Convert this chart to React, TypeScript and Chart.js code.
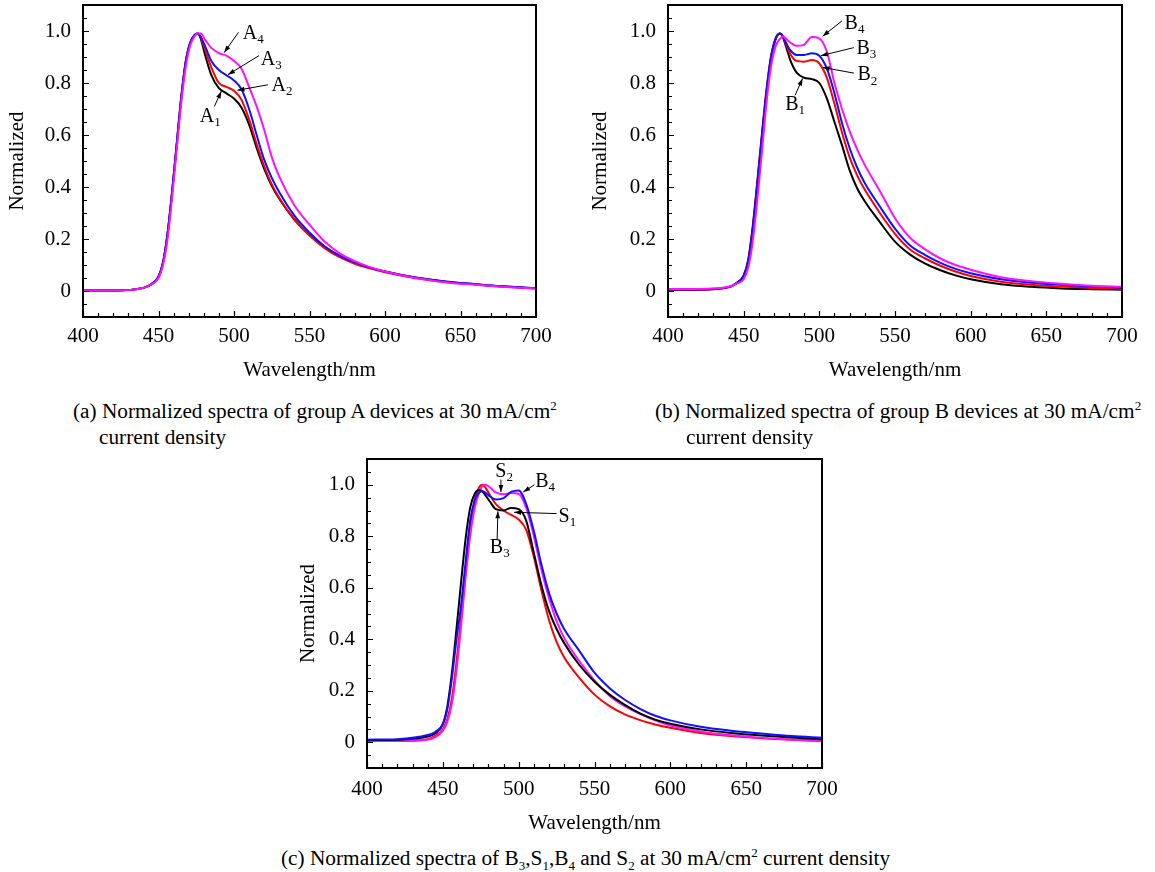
import React, { useEffect, useRef } from "react";
import { Chart, registerables } from "chart.js";

Chart.register(...registerables);

// ---------------- data ----------------
const WL = [400, 420, 440, 445, 450, 453, 456, 459, 462, 465, 468, 471, 474, 476, 478, 481, 485, 490, 495, 500, 505, 510, 515, 520, 525, 530, 540, 550, 560, 570, 580, 590, 600, 620, 640, 660, 680, 700];

// group A
const A1 = [0.002, 0.002, 0.012, 0.025, 0.055, 0.11, 0.22, 0.38, 0.56, 0.74, 0.88, 0.955, 0.985, 0.99, 0.97, 0.905, 0.83, 0.78, 0.76, 0.74, 0.705, 0.64, 0.55, 0.47, 0.405, 0.355, 0.275, 0.215, 0.17, 0.135, 0.11, 0.09, 0.075, 0.052, 0.037, 0.026, 0.017, 0.011];
const A2 = [0.002, 0.002, 0.012, 0.025, 0.055, 0.11, 0.22, 0.38, 0.56, 0.74, 0.88, 0.955, 0.985, 0.99, 0.975, 0.925, 0.86, 0.8, 0.785, 0.77, 0.735, 0.66, 0.565, 0.48, 0.41, 0.358, 0.275, 0.213, 0.165, 0.13, 0.105, 0.087, 0.072, 0.05, 0.035, 0.025, 0.016, 0.01];
const A3 = [0.002, 0.002, 0.012, 0.025, 0.055, 0.11, 0.22, 0.38, 0.56, 0.74, 0.88, 0.955, 0.985, 0.99, 0.978, 0.94, 0.885, 0.85, 0.83, 0.81, 0.775, 0.7, 0.6, 0.505, 0.435, 0.38, 0.29, 0.225, 0.172, 0.136, 0.11, 0.09, 0.075, 0.052, 0.036, 0.026, 0.017, 0.011];
const A4 = [0.002, 0.002, 0.012, 0.024, 0.05, 0.1, 0.2, 0.36, 0.54, 0.72, 0.86, 0.945, 0.98, 0.99, 0.99, 0.965, 0.935, 0.915, 0.905, 0.885, 0.855, 0.785, 0.71, 0.62, 0.515, 0.44, 0.33, 0.255, 0.19, 0.145, 0.115, 0.092, 0.075, 0.05, 0.034, 0.024, 0.015, 0.01];

// group B
const B1 = [0.005, 0.005, 0.015, 0.03, 0.06, 0.12, 0.25, 0.42, 0.6, 0.77, 0.9, 0.97, 0.99, 0.975, 0.94, 0.885, 0.84, 0.82, 0.815, 0.8, 0.74, 0.65, 0.56, 0.465, 0.395, 0.345, 0.265, 0.19, 0.14, 0.105, 0.08, 0.06, 0.045, 0.026, 0.016, 0.01, 0.007, 0.005];
const B2 = [0.005, 0.005, 0.014, 0.028, 0.055, 0.11, 0.23, 0.4, 0.58, 0.75, 0.89, 0.965, 0.99, 0.98, 0.95, 0.91, 0.885, 0.882, 0.888, 0.875, 0.82, 0.72, 0.61, 0.515, 0.445, 0.39, 0.3, 0.22, 0.16, 0.125, 0.097, 0.075, 0.058, 0.036, 0.024, 0.017, 0.012, 0.008];
const B3 = [0.006, 0.006, 0.015, 0.03, 0.058, 0.115, 0.24, 0.41, 0.59, 0.76, 0.895, 0.968, 0.99, 0.98, 0.955, 0.925, 0.908, 0.908, 0.914, 0.905, 0.855, 0.76, 0.645, 0.55, 0.475, 0.415, 0.325, 0.24, 0.175, 0.138, 0.108, 0.085, 0.068, 0.045, 0.032, 0.024, 0.017, 0.013];
const B4 = [0.008, 0.008, 0.016, 0.028, 0.045, 0.09, 0.19, 0.35, 0.53, 0.72, 0.86, 0.94, 0.97, 0.98, 0.97, 0.955, 0.943, 0.948, 0.977, 0.972, 0.92, 0.8, 0.7, 0.615, 0.545, 0.485, 0.385, 0.28, 0.205, 0.16, 0.125, 0.1, 0.082, 0.053, 0.038, 0.028, 0.02, 0.016];

// comparison (c)
const C_B3 = [0.008, 0.01, 0.022, 0.035, 0.07, 0.14, 0.27, 0.44, 0.62, 0.79, 0.91, 0.965, 0.98, 0.975, 0.96, 0.935, 0.905, 0.9, 0.91, 0.905, 0.86, 0.735, 0.61, 0.51, 0.44, 0.385, 0.3, 0.235, 0.185, 0.145, 0.112, 0.088, 0.072, 0.05, 0.036, 0.026, 0.018, 0.012];
const C_S1 = [0.005, 0.005, 0.012, 0.025, 0.05, 0.09, 0.17, 0.31, 0.48, 0.66, 0.83, 0.94, 0.99, 1.0, 0.99, 0.96, 0.925, 0.9, 0.883, 0.865, 0.825, 0.72, 0.59, 0.475, 0.39, 0.33, 0.25, 0.185, 0.14, 0.108, 0.086, 0.069, 0.056, 0.036, 0.024, 0.016, 0.01, 0.006];
const C_B4 = [0.01, 0.012, 0.028, 0.04, 0.07, 0.13, 0.25, 0.4, 0.53, 0.7, 0.86, 0.94, 0.97, 0.975, 0.97, 0.955, 0.943, 0.948, 0.972, 0.978, 0.925, 0.82, 0.69, 0.58, 0.5, 0.44, 0.355, 0.27, 0.21, 0.165, 0.13, 0.103, 0.085, 0.06, 0.045, 0.034, 0.024, 0.017];
const C_S2 = [0.005, 0.005, 0.01, 0.02, 0.045, 0.08, 0.15, 0.28, 0.45, 0.64, 0.8, 0.91, 0.97, 0.995, 1.0, 0.99, 0.97, 0.963, 0.968, 0.965, 0.91, 0.8, 0.67, 0.56, 0.47, 0.405, 0.315, 0.24, 0.18, 0.14, 0.11, 0.085, 0.065, 0.042, 0.027, 0.017, 0.01, 0.004];

const X_TICKS = [400, 450, 500, 550, 600, 650, 700];
const Y_TICKS = [0, 0.2, 0.4, 0.6, 0.8, 1.0];
const X_TITLE = "Wavelength/nm";
const Y_TITLE = "Normalized";

const BLACK = "#000000";
const RED = "#ff0000";
const BLUE = "#1010ff";
const MAGENTA = "#ff10ff";

// annotation labels: letter, subscript, label position (nm, value), arrow from -> to (nm, value)
type Ann = { t: string; s: string; lx: number; ly: number; x1: number; y1: number; x2: number; y2: number };
const ANN_A: Ann[] = [
  { t: "A", s: "4", lx: 505.8, ly: 0.99, x1: 503, y1: 0.995, x2: 493.5, y2: 0.917 },
  { t: "A", s: "3", lx: 517.7, ly: 0.889, x1: 516.5, y1: 0.905, x2: 496, y2: 0.832 },
  { t: "A", s: "2", lx: 524.8, ly: 0.789, x1: 522.4, y1: 0.793, x2: 502.3, y2: 0.772 },
  { t: "A", s: "1", lx: 477.4, ly: 0.669, x1: 487, y1: 0.71, x2: 491.6, y2: 0.768 },
];
const ANN_B: Ann[] = [
  { t: "B", s: "4", lx: 516.7, ly: 1.028, x1: 514.8, y1: 1.038, x2: 502.2, y2: 0.98 },
  { t: "B", s: "3", lx: 524.5, ly: 0.932, x1: 522.8, y1: 0.936, x2: 501, y2: 0.905 },
  { t: "B", s: "2", lx: 525.2, ly: 0.83, x1: 522.8, y1: 0.838, x2: 502.2, y2: 0.86 },
  { t: "B", s: "1", lx: 477.5, ly: 0.718, x1: 484, y1: 0.753, x2: 488.9, y2: 0.817 },
];
const ANN_C: Ann[] = [
  { t: "S", s: "2", lx: 484.6, ly: 1.052, x1: 488.3, y1: 1.02, x2: 488.3, y2: 0.972 },
  { t: "B", s: "4", lx: 510.9, ly: 1.013, x1: 510.4, y1: 1.0, x2: 503, y2: 0.972 },
  { t: "S", s: "1", lx: 526.3, ly: 0.875, x1: 525, y1: 0.888, x2: 497, y2: 0.893 },
  { t: "B", s: "3", lx: 481, ly: 0.755, x1: 485.8, y1: 0.787, x2: 486.3, y2: 0.897 },
];

const FONT = "'Liberation Serif', 'Times New Roman', serif";

type Series = { data: number[]; color: string };
type Panel = {
  left: number; top: number; w: number; h: number;
  padTop: number; padRight: number; yW: number; xH: number;
  xTitlePad: number; yTitlePad: number; xTickPad: number;
  series: Series[]; ann: Ann[];
};

const framePlugin = {
  id: "frame",
  afterDatasetsDraw(chart: any) {
    const { ctx, chartArea, scales } = chart;
    const { left, top, right, bottom } = chartArea;
    const x = scales.x, y = scales.y;
    ctx.save();
    ctx.strokeStyle = "#000";
    ctx.lineWidth = 1.2;
    ctx.beginPath();
    for (let v = 400; v <= 700; v += 10) {
      const px = Math.round(x.getPixelForValue(v)) + 0.5;
      const len = v % 50 === 0 ? 6 : 4;
      ctx.moveTo(px, bottom);
      ctx.lineTo(px, bottom - len);
    }
    for (let k = -2; k <= 22; k++) {
      const v = k * 0.05;
      const py = Math.round(y.getPixelForValue(v)) + 0.5;
      const len = k % 4 === 0 ? 6 : 4;
      ctx.moveTo(left, py);
      ctx.lineTo(left + len, py);
    }
    ctx.stroke();
    ctx.lineWidth = 2;
    ctx.strokeRect(left, top, right - left, bottom - top);
    ctx.restore();
  },
};

function makeAnnPlugin(ann: Ann[]) {
  return {
    id: "ann",
    afterDraw(chart: any) {
      const { ctx, scales } = chart;
      const x = scales.x, y = scales.y;
      ctx.save();
      ctx.fillStyle = "#000";
      ctx.strokeStyle = "#000";
      ctx.lineWidth = 1;
      ann.forEach((a) => {
        const lx = x.getPixelForValue(a.lx), ly = y.getPixelForValue(a.ly);
        ctx.font = `20px ${FONT}`;
        ctx.textAlign = "left";
        ctx.textBaseline = "middle";
        ctx.fillText(a.t, lx, ly);
        const w = ctx.measureText(a.t).width;
        ctx.font = `13px ${FONT}`;
        ctx.fillText(a.s, lx + w, ly + 6);
        const x1 = x.getPixelForValue(a.x1), y1 = y.getPixelForValue(a.y1);
        const x2 = x.getPixelForValue(a.x2), y2 = y.getPixelForValue(a.y2);
        ctx.beginPath();
        ctx.moveTo(x1, y1);
        ctx.lineTo(x2, y2);
        ctx.stroke();
        const ang = Math.atan2(y2 - y1, x2 - x1);
        const L = 7, Wd = 2.4;
        ctx.beginPath();
        ctx.moveTo(x2, y2);
        ctx.lineTo(x2 - L * Math.cos(ang) + Wd * Math.sin(ang), y2 - L * Math.sin(ang) - Wd * Math.cos(ang));
        ctx.lineTo(x2 - L * Math.cos(ang) - Wd * Math.sin(ang), y2 - L * Math.sin(ang) + Wd * Math.cos(ang));
        ctx.closePath();
        ctx.fill();
      });
      ctx.restore();
    },
  };
}

function SpectraChart({ p }: { p: Panel }) {
  const ref = useRef<HTMLCanvasElement>(null);
  useEffect(() => {
    const font = { family: FONT, size: 21 };
    const chart = new Chart(ref.current as HTMLCanvasElement, {
      type: "line",
      data: {
        datasets: p.series.map((s, i) => ({
          data: WL.map((w, j) => ({ x: w, y: s.data[j] })),
          borderColor: s.color,
          borderWidth: 2,
          pointRadius: 0,
          fill: false,
          cubicInterpolationMode: "monotone" as const,
          order: p.series.length - i,
        })),
      },
      options: {
        animation: false,
        responsive: false,
        devicePixelRatio: 1,
        layout: { padding: { top: p.padTop, right: p.padRight, left: 0, bottom: 0 } },
        plugins: { legend: { display: false }, tooltip: { enabled: false } },
        scales: {
          x: {
            type: "linear",
            min: 400,
            max: 700,
            afterBuildTicks: (s: any) => { s.ticks = X_TICKS.map((v) => ({ value: v })); },
            afterFit: (s: any) => { s.height = p.xH; },
            grid: { display: false, drawTicks: false },
            border: { display: false },
            ticks: { font, color: "#000", padding: p.xTickPad, maxRotation: 0, autoSkip: false, callback: (v: any) => String(v) },
            title: { display: true, text: X_TITLE, font, color: "#000", padding: { top: 0, bottom: p.xTitlePad } },
          },
          y: {
            type: "linear",
            min: -0.1,
            max: 1.1,
            afterBuildTicks: (s: any) => { s.ticks = Y_TICKS.map((v) => ({ value: v })); },
            afterFit: (s: any) => { s.width = p.yW; },
            grid: { display: false, drawTicks: false },
            border: { display: false },
            ticks: { font, color: "#000", padding: 12, autoSkip: false, callback: (v: any) => (v === 0 ? "0" : Number(v).toFixed(1)) },
            title: { display: true, text: Y_TITLE, font, color: "#000", padding: { top: p.yTitlePad, bottom: 0 } },
          },
        },
      } as any,
      plugins: [framePlugin, makeAnnPlugin(p.ann)],
    });
    return () => chart.destroy();
  }, []);
  return (
    <canvas
      ref={ref}
      width={p.w}
      height={p.h}
      style={{ position: "absolute", left: p.left, top: p.top, width: p.w, height: p.h }}
    />
  );
}

const PANEL_A: Panel = {
  left: 0, top: -25, w: 575, h: 415, padTop: 30, padRight: 39, yW: 83, xH: 73,
  xTitlePad: 7.4, yTitlePad: 4.4, xTickPad: 7,
  series: [{ data: A1, color: BLACK }, { data: A2, color: RED }, { data: A3, color: BLUE }, { data: A4, color: MAGENTA }],
  ann: ANN_A,
};
const PANEL_B: Panel = {
  left: 585, top: -25, w: 570, h: 415, padTop: 30, padRight: 33, yW: 83, xH: 73,
  xTitlePad: 7.4, yTitlePad: 2.4, xTickPad: 7,
  series: [{ data: B1, color: BLACK }, { data: B2, color: RED }, { data: B3, color: BLUE }, { data: B4, color: MAGENTA }],
  ann: ANN_B,
};
const PANEL_C: Panel = {
  left: 284, top: 429, w: 575, h: 414, padTop: 30, padRight: 37, yW: 83, xH: 75,
  xTitlePad: 7.4, yTitlePad: 11.4, xTickPad: 9,
  series: [{ data: C_S1, color: RED }, { data: C_S2, color: MAGENTA }, { data: C_B3, color: BLACK }, { data: C_B4, color: BLUE }],
  ann: ANN_C,
};

const capStyle: React.CSSProperties = {
  position: "absolute",
  fontFamily: FONT,
  fontSize: 21.3,
  lineHeight: "24px",
  whiteSpace: "nowrap",
  color: "#000",
};
const sup: React.CSSProperties = { fontSize: 13, position: "relative", top: -8, verticalAlign: "baseline" };
const sub: React.CSSProperties = { fontSize: 13, position: "relative", top: 5, verticalAlign: "baseline" };

export default function App() {
  return (
    <div style={{ position: "fixed", left: 0, top: 0, width: 1155, height: 872, background: "#fff", overflow: "hidden" }}>
      <SpectraChart p={PANEL_A} />
      <SpectraChart p={PANEL_B} />
      <SpectraChart p={PANEL_C} />
      <div style={{ ...capStyle, left: 73, top: 399 }}>
        (a) Normalized spectra of group A devices at 30 mA/cm<span style={sup}>2</span>
      </div>
      <div style={{ ...capStyle, left: 99, top: 425 }}>current density</div>
      <div style={{ ...capStyle, left: 655, top: 399 }}>
        (b) Normalized spectra of group B devices at 30 mA/cm<span style={sup}>2</span>
      </div>
      <div style={{ ...capStyle, left: 686, top: 425 }}>current density</div>
      <div style={{ ...capStyle, left: 281, top: 846 }}>
        (c) Normalized spectra of B<span style={sub}>3</span>,S<span style={sub}>1</span>,B<span style={sub}>4</span> and S<span style={sub}>2</span> at 30 mA/cm<span style={sup}>2</span> current density
      </div>
    </div>
  );
}
